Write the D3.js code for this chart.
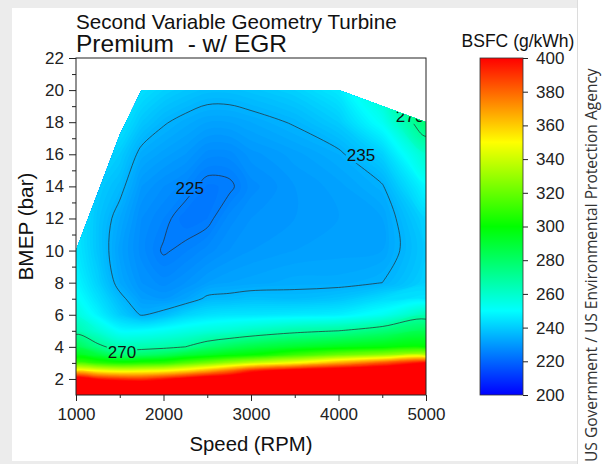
<!DOCTYPE html>
<html>
<head>
<meta charset="utf-8">
<script src="https://cdn.jsdelivr.net/npm/d3@7"></script>
<style>
  body { margin: 0; background: #fff; }
  svg { display: block; font-family: "Liberation Sans", Arial, sans-serif; }
</style>
</head>
<body>
<svg id="chart" width="602" height="464"></svg>
<script>
// engine speed columns (RPM) and BMEP rows (bar) of the map grid
const speeds = [1000, 1250, 1500, 1750, 2000, 2250, 2500, 2750, 3000, 3500, 4000, 4500, 5000];
const bmepRows = [1, 1.5, 2, 2.5, 3, 3.5, 4, 5, 6, 7, 8, 10, 12, 14, 16, 18, 20, 22];

// BSFC (g/kWh), one row per bmepRows entry, one value per speed
const bsfcByBmep = [
  [470, 465, 460, 458, 455, 455, 458, 462, 465, 470, 475, 480, 490],
  [440, 432, 428, 426, 425, 428, 432, 438, 442, 448, 455, 460, 470],
  [410, 396, 391, 389, 395.5, 404, 412, 415, 420, 428, 435, 440, 450],
  [355.5, 350, 346, 347.5, 350, 357, 367, 379, 394, 408, 415, 420, 425],
  [312.5, 308, 304, 306, 308, 316, 323, 331, 338.5, 350, 366.7, 383, 400],
  [294.5, 288, 277.5, 279.5, 283, 289, 293, 297, 300, 311.5, 321.4, 328.6, 335.7],
  [284, 273, 265, 265.4, 267, 270, 277, 282, 286, 291, 295, 298, 300],
  [266, 258, 250, 250, 252, 254.6, 257, 259, 262, 267, 270, 276.4, 283.3],
  [257, 248, 240, 234.5, 237, 241.5, 244, 245, 245, 246, 247, 252.5, 265],
  [252, 244, 236.5, 231, 230, 232, 236, 236.5, 237.5, 237, 238.5, 243, 245],
  [249, 241, 233, 229, 227.5, 229, 231, 232, 232.5, 233.5, 233.5, 235, 241],
  [246, 238.5, 231.5, 227.5, 224.6, 225.8, 227.5, 229, 230, 231, 231.5, 232, 239.5],
  [246, 238.5, 233, 228, 226, 223.2, 224, 227.5, 229, 230, 231, 232, 241.5],
  [248, 240, 236.5, 230, 228, 226.5, 223.8, 224.2, 227.5, 230, 231.5, 234.5, 249],
  [251, 243, 240, 233.5, 231.5, 230, 227.5, 227.5, 229.5, 231.5, 234, 241, 260],
  [255, 247, 245, 239, 235.5, 233.5, 232, 232, 233, 235.5, 240, 252, 278],
  [259, 252, 250, 244, 241, 239, 237.5, 237.5, 238.5, 241, 246, 262, 295],
  [263, 257, 255, 249, 246, 244, 242, 242, 243, 246, 252, 272, 310],
];

// full load limit of the map
const limitSpeed = [1000, 1500, 1750, 4000, 5000];
const limitBmep = [10, 17.2, 20, 20, 18];

// labelled iso-BSFC lines
const lineLevels = [225, 235, 270];
const lineLabels = [
  { text: '225', speed: 2300, bmep: 13.9 },
  { text: '235', speed: 4257, bmep: 15.95 },
  { text: '270', speed: 1526, bmep: 3.68 },
  { text: '270', speed: 4817, bmep: 18.4 },
];

const xTicks = [1000, 2000, 3000, 4000, 5000];
const xMinorTicks = [1500, 2500, 3500, 4500];
const yTicks = [2, 4, 6, 8, 10, 12, 14, 16, 18, 20, 22];
const yMinorTicks = [3, 5, 7, 9, 11, 13, 15, 17, 19, 21];
const colorTicks = [200, 220, 240, 260, 280, 300, 320, 340, 360, 380, 400];
const colorStops = [200, 250, 300, 350, 400];
const colorRange = ['#0000ff', '#00ffff', '#00ff00', '#ffff00', '#ff0000'];

const plot = { left: 76, right: 426, top: 58, bottom: 395 };
const bar = { left: 480, width: 43 };

const svg = d3.select('#chart');
const defs = svg.append('defs');

// scale a text's font so that it spans the width seen in the reference
const fitText = (sel, target) => {
  const len = sel.node().getComputedTextLength();
  sel.attr('font-size', (+sel.attr('font-size') * target) / len);
  return sel;
};

// page background / card
svg.append('rect').attr('width', 578).attr('height', 464).attr('fill', '#ececec');
svg.append('rect').attr('x', 12).attr('y', 8).attr('width', 565).attr('height', 453).attr('fill', '#fff');
svg.append('line').attr('x1', 577.5).attr('x2', 577.5).attr('y1', 0).attr('y2', 464)
  .attr('stroke', '#dcdcdc');

const x = d3.scaleLinear().domain([1000, 5000]).range([plot.left, plot.right]);
const y = d3.scaleLinear().domain([1, 22]).range([plot.bottom, plot.top]);
const color = d3.scaleLinear().domain(colorStops).range(colorRange).clamp(true);

// grid index -> data value (contour coords put sample i at i + 0.5)
const colToSpeed = d3.scaleLinear().domain(d3.range(speeds.length)).range(speeds);
const rowToBmep = d3.scaleLinear().domain(d3.range(bmepRows.length)).range(bmepRows);
const toPx = ([cx, cy]) => [x(colToSpeed(cx - 0.5)), y(rowToBmep(cy - 0.5))];

const smooth = d3.line().curve(d3.curveCatmullRomClosed.alpha(0.5));
const contourPath = geom =>
  geom.coordinates
    .map(poly => poly.map(ring => smooth(ring.slice(0, -1).map(toPx))).join(''))
    .join('');

const values = bsfcByBmep.flat();
const size = [speeds.length, bmepRows.length];

// clip to the operating envelope
const envelope = [[1000, 1], ...limitSpeed.map((s, i) => [s, limitBmep[i]]), [5000, 1]];
defs.append('clipPath').attr('id', 'envelope')
  .append('path')
  .attr('d', d3.line()(envelope.map(([s, b]) => [x(s), y(b)])) + 'Z');

const field = svg.append('g').attr('clip-path', 'url(#envelope)');

const bands = d3.contours().size(size).thresholds(d3.range(212, 401, 1))(values);
field.append('g')
  .selectAll('path')
  .data(bands)
  .join('path')
  .attr('d', contourPath)
  .attr('fill', d => color(d.value + 0.5));

const lineGroup = field.append('g').attr('mask', 'url(#labelGaps)');

const labelGroup = field.append('g')
  .attr('font-size', 17)
  .attr('fill', '#111')
  .attr('text-anchor', 'middle');
labelGroup.selectAll('text')
  .data(lineLabels)
  .join('text')
  .attr('x', d => x(d.speed))
  .attr('y', d => y(d.bmep))
  .attr('dy', '0.36em')
  .text(d => d.text);

// cut the iso lines where the labels sit
const mask = defs.append('mask').attr('id', 'labelGaps')
  .attr('maskUnits', 'userSpaceOnUse')
  .attr('x', 0).attr('y', 0).attr('width', 602).attr('height', 464);
mask.append('rect').attr('width', 602).attr('height', 464).attr('fill', '#fff');
labelGroup.selectAll('text').each(function () {
  const b = this.getBBox();
  mask.append('rect')
    .attr('x', b.x - 1).attr('y', b.y + 2)
    .attr('width', b.width + 2).attr('height', b.height - 4)
    .attr('fill', '#000');
});

const isoLines = d3.contours().size(size).thresholds(lineLevels)(values);
lineGroup.selectAll('path')
  .data(isoLines)
  .join('path')
  .attr('d', contourPath)
  .attr('fill', 'none')
  .attr('stroke', '#2a2a2a')
  .attr('stroke-width', 0.7);

// axes
const styleAxis = g => {
  g.select('.domain').remove();
  g.selectAll('line').attr('stroke', '#222');
  g.selectAll('text').attr('fill', '#222').attr('font-size', 17)
    .attr('font-family', '"Liberation Sans", Arial, sans-serif');
};

svg.append('g').attr('transform', `translate(${plot.left},0)`)
  .call(d3.axisLeft(y).tickValues(yTicks).tickSize(7).tickPadding(5))
  .call(styleAxis);
svg.append('g').attr('transform', `translate(${plot.left},0)`)
  .call(d3.axisLeft(y).tickValues(yMinorTicks).tickSize(4).tickFormat(''))
  .call(styleAxis);
svg.append('g').attr('transform', `translate(0,${plot.bottom})`)
  .call(d3.axisBottom(x).tickValues(xTicks).tickSize(6).tickPadding(7).tickFormat(d3.format('d')))
  .call(styleAxis);
svg.append('g').attr('transform', `translate(0,${plot.bottom})`)
  .call(d3.axisBottom(x).tickValues(xMinorTicks).tickSize(3).tickFormat(''))
  .call(styleAxis);

svg.append('rect')
  .attr('x', plot.left).attr('y', plot.top)
  .attr('width', plot.right - plot.left).attr('height', plot.bottom - plot.top)
  .attr('fill', 'none').attr('stroke', '#222').attr('stroke-width', 1);

// titles
svg.append('text').attr('x', 76).attr('y', 29).attr('font-size', 20).attr('fill', '#111')
  .text('Second Variable Geometry Turbine')
  .call(fitText, 321);
svg.append('text').attr('x', 76).attr('y', 52).attr('font-size', 24).attr('fill', '#111')
  .attr('xml:space', 'preserve').style('white-space', 'pre')
  .text('Premium  - w/ EGR')
  .call(fitText, 211);
svg.append('text').attr('x', (plot.left + plot.right) / 2).attr('y', 451)
  .attr('font-size', 20).attr('fill', '#111').attr('text-anchor', 'middle')
  .text('Speed (RPM)')
  .call(fitText, 123);
svg.append('text')
  .attr('transform', `translate(33,${(plot.top + plot.bottom) / 2}) rotate(-90)`)
  .attr('font-size', 20).attr('fill', '#111').attr('text-anchor', 'middle')
  .text('BMEP (bar)')
  .call(fitText, 108);

// colour bar
const grad = defs.append('linearGradient').attr('id', 'bsfcGrad')
  .attr('x1', 0).attr('y1', 1).attr('x2', 0).attr('y2', 0);
grad.selectAll('stop')
  .data(colorStops)
  .join('stop')
  .attr('offset', d => (d - 200) / 200)
  .attr('stop-color', d => color(d));

const cScale = d3.scaleLinear().domain([200, 400]).range([plot.bottom, plot.top]);
svg.append('rect')
  .attr('x', bar.left).attr('y', plot.top)
  .attr('width', bar.width).attr('height', plot.bottom - plot.top)
  .attr('fill', 'url(#bsfcGrad)').attr('stroke', '#333').attr('stroke-width', 0.8);
svg.append('g').attr('transform', `translate(${bar.left + bar.width},0)`)
  .call(d3.axisRight(cScale).tickValues(colorTicks).tickSize(5).tickPadding(8))
  .call(styleAxis);
svg.append('text').attr('x', 518).attr('y', 47).attr('font-size', 17).attr('fill', '#111')
  .attr('text-anchor', 'middle').text('BSFC (g/kWh)')
  .call(fitText, 113);

// attribution
svg.append('text')
  .attr('transform', 'translate(597,462) rotate(-90)')
  .attr('font-family', '"Open Sans", sans-serif')
  .attr('font-size', 14).attr('fill', '#333')
  .text('US Government / US Environmental Protection Agency')
  .call(fitText, 394);
</script>
</body>
</html>
